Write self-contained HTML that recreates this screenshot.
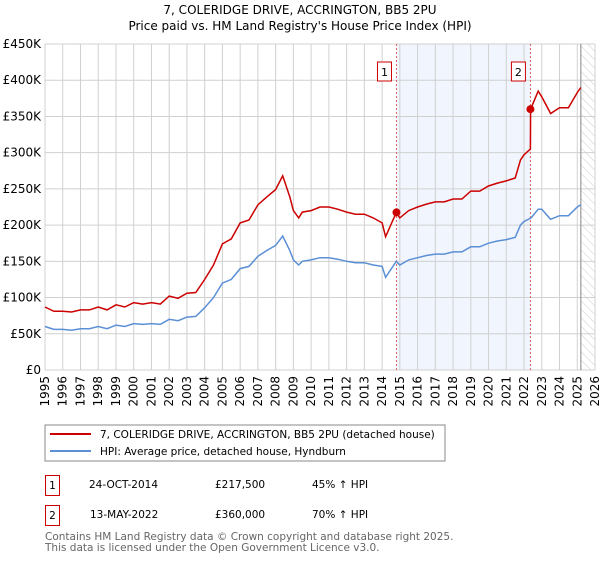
<!DOCTYPE html>
<html><head><meta charset="utf-8"><style>
body{margin:0;background:#fff;width:600px;height:560px;overflow:hidden;font-family:"DejaVu Sans","Liberation Sans",sans-serif;}
svg text{font-family:"DejaVu Sans","Liberation Sans",sans-serif;}
</style></head><body>
<svg id="chart" width="600" height="560">
<defs><pattern id="hatch" width="6" height="6" patternUnits="userSpaceOnUse" patternTransform="rotate(-45)"><line x1="0" y1="0" x2="0" y2="6" stroke="#ccc" stroke-width="1"/></pattern></defs>
<text x="300" y="14" text-anchor="middle" font-size="12">7, COLERIDGE DRIVE, ACCRINGTON, BB5 2PU</text>
<text x="300" y="30" text-anchor="middle" font-size="12">Price paid vs. HM Land Registry's House Price Index (HPI)</text>
<g id="grid"></g><g id="marks"></g><g id="axes"></g>
<rect x="45" y="425" width="400" height="36" fill="#fff" stroke="#888"/>
<line x1="50" y1="434" x2="91" y2="434" stroke="#cc0000" stroke-width="2"/>
<text x="100" y="438" font-size="10.5">7, COLERIDGE DRIVE, ACCRINGTON, BB5 2PU (detached house)</text>
<line x1="50" y1="451" x2="91" y2="451" stroke="#5b8fd6" stroke-width="2"/>
<text x="100" y="455" font-size="10.5">HPI: Average price, detached house, Hyndburn</text>
<g font-size="10.5">
<rect x="45.5" y="475.5" width="14" height="20" fill="none" stroke="#cc0000"/>
<text x="52.5" y="489" text-anchor="middle">1</text>
<text x="89" y="488">24-OCT-2014</text>
<text x="215" y="488">£217,500</text>
<text x="312" y="488">45% ↑ HPI</text>
<rect x="45.5" y="505.5" width="14" height="20" fill="none" stroke="#cc0000"/>
<text x="52.5" y="519" text-anchor="middle">2</text>
<text x="90" y="518">13-MAY-2022</text>
<text x="215" y="518">£360,000</text>
<text x="312" y="518">70% ↑ HPI</text>
</g>
<text x="45" y="540" font-size="10.5" fill="#666">Contains HM Land Registry data © Crown copyright and database right 2025.</text>
<text x="45" y="551" font-size="10.5" fill="#666">This data is licensed under the Open Government Licence v3.0.</text>
</svg>
<script>
const hpiYears=[1995,1995.5,1996,1996.5,1997,1997.5,1998,1998.5,1999,1999.5,2000,2000.5,2001,2001.5,2002,2002.5,2003,2003.5,2004,2004.5,2005,2005.5,2006,2006.5,2007,2007.5,2008,2008.4,2008.8,2009,2009.3,2009.5,2010,2010.5,2011,2011.5,2012,2012.5,2013,2013.5,2014,2014.2,2014.8,2015,2015.5,2016,2016.5,2017,2017.5,2018,2018.5,2019,2019.5,2020,2020.5,2021,2021.5,2021.8,2022,2022.4,2022.8,2023,2023.5,2024,2024.5,2025,2025.2];
const hpiValues=[60,56,56,55,57,57,60,57,62,60,64,63,64,63,70,68,73,74,86,100,120,125,140,143,157,165,172,185,165,152,145,150,152,155,155,153,150,148,148,145,143,128,150,145,152,155,158,160,160,163,163,170,170,175,178,180,183,200,205,210,222,222,208,213,213,225,228];
const priceYears=[1995,1995.5,1996,1996.5,1997,1997.5,1998,1998.5,1999,1999.5,2000,2000.5,2001,2001.5,2002,2002.5,2003,2003.5,2004,2004.5,2005,2005.5,2006,2006.5,2007,2007.5,2008,2008.4,2008.8,2009,2009.3,2009.5,2010,2010.5,2011,2011.5,2012,2012.5,2013,2013.5,2014,2014.2,2014.8,2015,2015.5,2016,2016.5,2017,2017.5,2018,2018.5,2019,2019.5,2020,2020.5,2021,2021.5,2021.8,2022,2022.36,2022.37,2022.8,2023,2023.5,2024,2024.5,2025,2025.2];
const priceValues=[87,81,81,80,83,83,87,83,90,87,93,91,93,91,102,99,106,107,125,145,174,181,203,207,228,239,249,268,239,220,210,218,220,225,225,222,218,215,215,210,203,184,217.5,210,220,225,229,232,232,236,236,247,247,254,258,261,265,290,297,305,360,385,377,354,362,362,383,390];
const saleYears=[2014.81,2022.36];
const saleValues=[217.5,360];
const saleLabels=["1","2"];
const yTicks=[0,50,100,150,200,250,300,350,400,450];
const yTickLabels=["£0","£50K","£100K","£150K","£200K","£250K","£300K","£350K","£400K","£450K"];
const xTicks=[1995,1996,1997,1998,1999,2000,2001,2002,2003,2004,2005,2006,2007,2008,2009,2010,2011,2012,2013,2014,2015,2016,2017,2018,2019,2020,2021,2022,2023,2024,2025,2026];
const dataEnd=2025.2;

const NS="http://www.w3.org/2000/svg";
const L=45,R=595,T=44,B=370;
const xs=y=>L+(y-1995)/(2026-1995)*(R-L);
const ys=v=>B-v/450*(B-T);
function mk(parent,tag,attrs){const e=document.createElementNS(NS,tag);for(const k in attrs)e.setAttribute(k,attrs[k]);document.getElementById(parent).appendChild(e);return e;}
// shaded ownership region
let e=mk('grid','rect',{x:xs(saleYears[0]),y:T,width:xs(saleYears[1])-xs(saleYears[0]),height:B-T,fill:'#eef3fd',opacity:0.8});


e=mk('grid','rect',{x:xs(dataEnd),y:T,width:R-xs(dataEnd),height:B-T,fill:'url(#hatch)'});


xTicks.forEach(t=>{
 const g=mk('grid','line',{x1:xs(t),x2:xs(t),y1:T,y2:B,stroke:'#d0d0d0'});
 
 
 const tx=mk('axes','text',{x:0,y:0,'font-size':12,'text-anchor':'end',transform:`translate(${xs(t)+4},${B+6}) rotate(-90)`});
 tx.textContent=t;
 
 
});
yTicks.forEach((t,i)=>{
 const g=mk('grid','line',{x1:L,x2:R,y1:ys(t),y2:ys(t),stroke:'#d0d0d0'});
 
 
 const tx=mk('axes','text',{x:L-4,y:ys(t)+4,'font-size':12,'text-anchor':'end'});
 tx.textContent=yTickLabels[i];
 
 
});
e=mk('grid','line',{x1:xs(dataEnd),x2:xs(dataEnd),y1:T,y2:B,stroke:'#999','stroke-width':1.2});


saleYears.forEach((s,i)=>{
 const l=mk('marks','line',{x1:xs(s),x2:xs(s),y1:T,y2:B,stroke:'#e06060','stroke-dasharray':'2,2'});
 
 
 const r=mk('marks','rect',{x:xs(s)-19,y:62,width:14,height:19,fill:'#fff',stroke:'#cc0000'});
 
 
 const t=mk('marks','text',{x:xs(s)-12,y:76,'font-size':11,'text-anchor':'middle'});
 t.textContent=saleLabels[i];
 
 
});
const pts=(xa,va)=>xa.map((x,i)=>xs(x).toFixed(1)+','+ys(va[i]).toFixed(1)).join(' ');
e=mk('marks','polyline',{points:pts(hpiYears,hpiValues),fill:'none',stroke:'#5b8fd6','stroke-width':1.5});


e=mk('marks','polyline',{points:pts(priceYears,priceValues),fill:'none',stroke:'#cc0000','stroke-width':1.5});


saleYears.forEach((s,i)=>{
 const c=mk('marks','circle',{cx:xs(s),cy:ys(saleValues[i]),r:4,fill:'#cc0000'});
 
 
});
</script>
</body></html>
